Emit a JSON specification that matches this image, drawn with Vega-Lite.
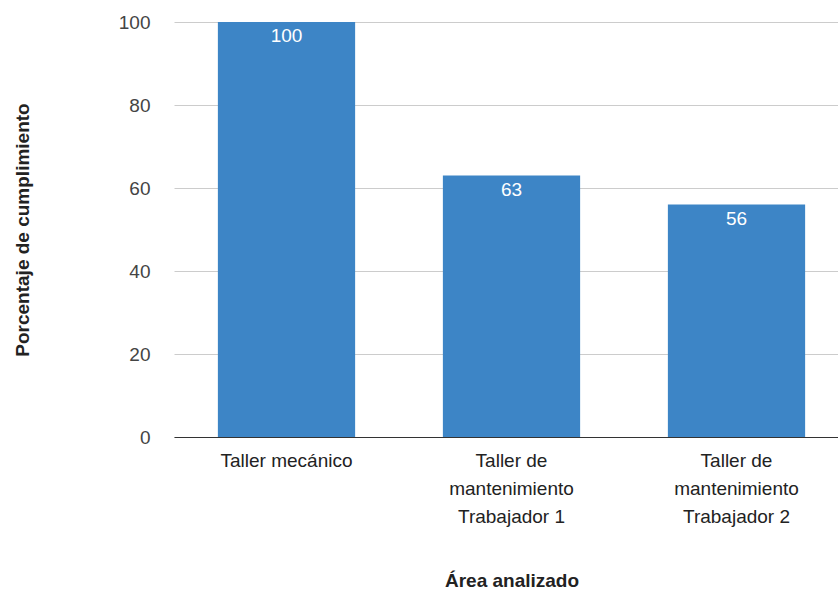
{
  "$schema": "https://vega.github.io/schema/vega-lite/v6.json",
  "autosize": {"type": "none"},
  "padding": {"left": 174, "top": 22, "right": 0, "bottom": 155},
  "width": 675,
  "height": 415,
  "background": "white",
  "config": {
    "view": {"stroke": null},
    "font": "Liberation Sans"
  },
  "data": {
    "values": [
      {"area": "Taller mecánico", "pct": 100},
      {"area": "Taller de mantenimiento Trabajador 1", "pct": 63},
      {"area": "Taller de mantenimiento Trabajador 2", "pct": 56}
    ]
  },
  "encoding": {
    "x": {
      "field": "area",
      "type": "nominal",
      "sort": null,
      "scale": {"paddingInner": 0.39, "paddingOuter": 0.195},
      "axis": {
        "title": "Área analizado",
        "titleFont": "Liberation Sans",
        "titleFontWeight": "bold",
        "titleFontSize": 19,
        "titleColor": "#222222",
        "titleY": 143,
        "titleBaseline": "middle",
        "labelAngle": 0,
        "labelFont": "Liberation Sans",
        "labelFontSize": 19,
        "labelColor": "#222222",
        "labelPadding": 14,
        "labelLineHeight": 28,
        "labelBaseline": "top",
        "labelExpr": "split(replace(datum.label, 'Taller de mantenimiento ', 'Taller de|mantenimiento|'), '|')",
        "ticks": false,
        "domainColor": "#333333",
        "domainWidth": 1,
        "grid": false
      }
    },
    "y": {
      "field": "pct",
      "type": "quantitative",
      "scale": {"domain": [0, 100]},
      "axis": {
        "title": "Porcentaje de cumplimiento",
        "titleFont": "Liberation Sans",
        "titleFontWeight": "bold",
        "titleFontSize": 19,
        "titleColor": "#222222",
        "titleX": -152,
        "titleBaseline": "middle",
        "values": [0, 20, 40, 60, 80, 100],
        "labelFont": "Liberation Sans",
        "labelFontSize": 19,
        "labelColor": "#444444",
        "labelPadding": 24,
        "ticks": false,
        "domain": false,
        "gridColor": "#cccccc",
        "gridWidth": 1
      }
    }
  },
  "layer": [
    {
      "mark": {"type": "bar", "color": "#3d85c6"}
    },
    {
      "mark": {
        "type": "text",
        "baseline": "top",
        "dy": 5,
        "color": "white",
        "fontSize": 19,
        "font": "Liberation Sans"
      },
      "encoding": {"text": {"field": "pct", "type": "quantitative"}}
    }
  ]
}
